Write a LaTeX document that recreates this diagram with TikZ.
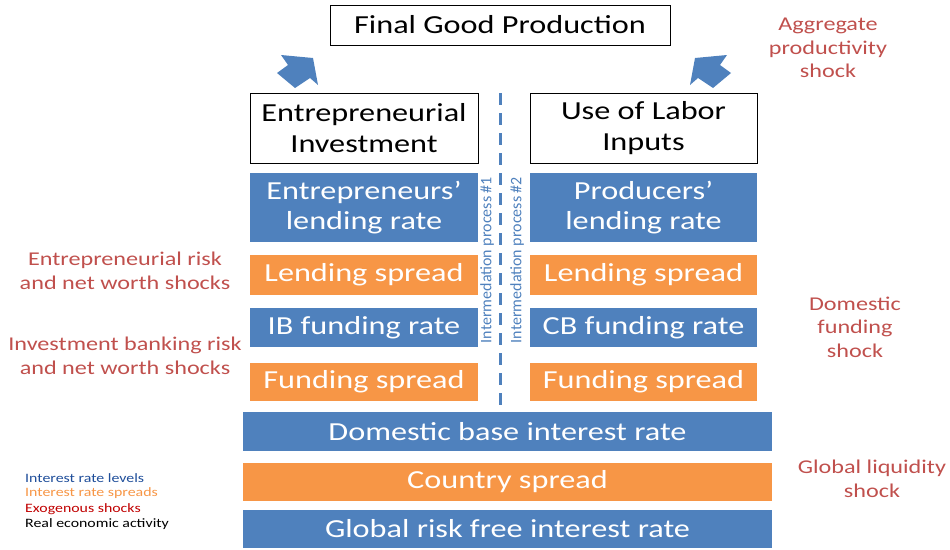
\documentclass[tikz,border=0pt]{standalone}
\usepackage{fontspec}
\setmainfont[FakeStretch=1.24]{Carlito}
\newfontfamily\plainfont{Carlito}
\usepackage{xcolor}
\definecolor{rateblue}{HTML}{4F81BD}
\definecolor{spreadorange}{HTML}{F79646}
\definecolor{shockred}{HTML}{C0504D}
\definecolor{legblue}{HTML}{1F4E9A}
\definecolor{legred}{HTML}{C00000}

\tikzset{
  bar/.style={minimum height=#1,inner sep=0pt,text=white,font=\fontsize{26}{30.5}\selectfont,align=center},
  rate/.style={bar=#1,fill=rateblue},
  spread/.style={bar=#1,fill=spreadorange},
  real/.style={draw=black,line width=0.8pt,fill=white,inner sep=0pt,font=\fontsize{26}{31}\selectfont,align=center},
  shock/.style={text=shockred,font=\fontsize{19.5}{23.5}\selectfont,align=center},
  legend/.style={anchor=west,inner sep=0pt,font=\fontsize{12.8}{15}\selectfont},
  process/.style={rotate=90,text=rateblue,font=\plainfont\fontsize{16}{19}\selectfont,inner sep=0pt},
  arrowblock/.style={fill=rateblue,draw=none}
}

\begin{document}
\begin{tikzpicture}[x=1pt,y=-1pt]
\useasboundingbox (0,0) rectangle (950,549);

% real activity
\node[real,minimum width=340,minimum height=40] (final) at (500,25) {Final Good Production};
\node[real,minimum width=228,minimum height=70] (invest) at (364,128) {Entrepreneurial\\Investment};
\node[real,minimum width=227,minimum height=70] (labor) at (643.5,128) {Use of Labor\\Inputs};

% intermediation process #1
\node[rate=69,minimum width=228] (elend) at (364,207.5) {Entrepreneurs'\\lending rate};
\node[spread=40,minimum width=228] (lspreadL) at (364,275) {Lending spread};
\node[rate=39,minimum width=228] (ibfund) at (364,327.5) {IB funding rate};
\node[spread=38,minimum width=228] (fspreadL) at (364,382) {Funding spread};

% intermediation process #2
\node[rate=69,minimum width=227] (plend) at (643.5,207.5) {Producers'\\lending rate};
\node[spread=40,minimum width=227] (lspreadR) at (643.5,275) {Lending spread};
\node[rate=39,minimum width=227] (cbfund) at (643.5,327.5) {CB funding rate};
\node[spread=38,minimum width=227] (fspreadR) at (643.5,382) {Funding spread};

% common rates
\node[rate=39,minimum width=529] (base) at (507.5,431.5) {Domestic base interest rate};
\node[spread=38,minimum width=529] (country) at (507.5,482) {Country spread};
\node[rate=38,minimum width=529] (global) at (507.5,529) {Global risk free interest rate};

% separator
\coordinate (septop) at (500,93);
\coordinate (sepbot) at (500,405);
\draw[rateblue,line width=3pt,dash pattern=on 12pt off 8pt] (septop) -- (sepbot);
\node[process] (proc1) at (487,260) {Intermedation process \#1};
\node[process] (proc2) at (517,260) {Intermedation process \#2};

% block arrows
\fill[arrowblock] (313,58) -- (281,55) -- (288,65) -- (277,73) -- (295,88) -- (310,78) -- (318,85) -- cycle;
\fill[arrowblock] (695,58) -- (727,55) -- (720,65) -- (731,73) -- (713,88) -- (698,78) -- (690,85) -- cycle;

% shocks
\node[shock] (prodshock) at (828,48) {Aggregate\\productivity\\shock};
\node[shock] (entshock) at (125,271) {Entrepreneurial risk\\and net worth shocks};
\node[shock] (ibshock) at (125,356) {Investment banking risk\\and net worth shocks};
\node[shock] (domshock) at (855,327) {Domestic\\funding\\shock};
\node[shock] (liqshock) at (872,479) {Global liquidity\\shock};

% legend
\node[legend,text=legblue] (leg1) at (25,478) {Interest rate levels};
\node[legend,text=spreadorange] (leg2) at (25,493.5) {Interest rate spreads};
\node[legend,text=legred] (leg3) at (25,509) {Exogenous shocks};
\node[legend,text=black] (leg4) at (25,524.5) {Real economic activity};
\end{tikzpicture}
\end{document}
